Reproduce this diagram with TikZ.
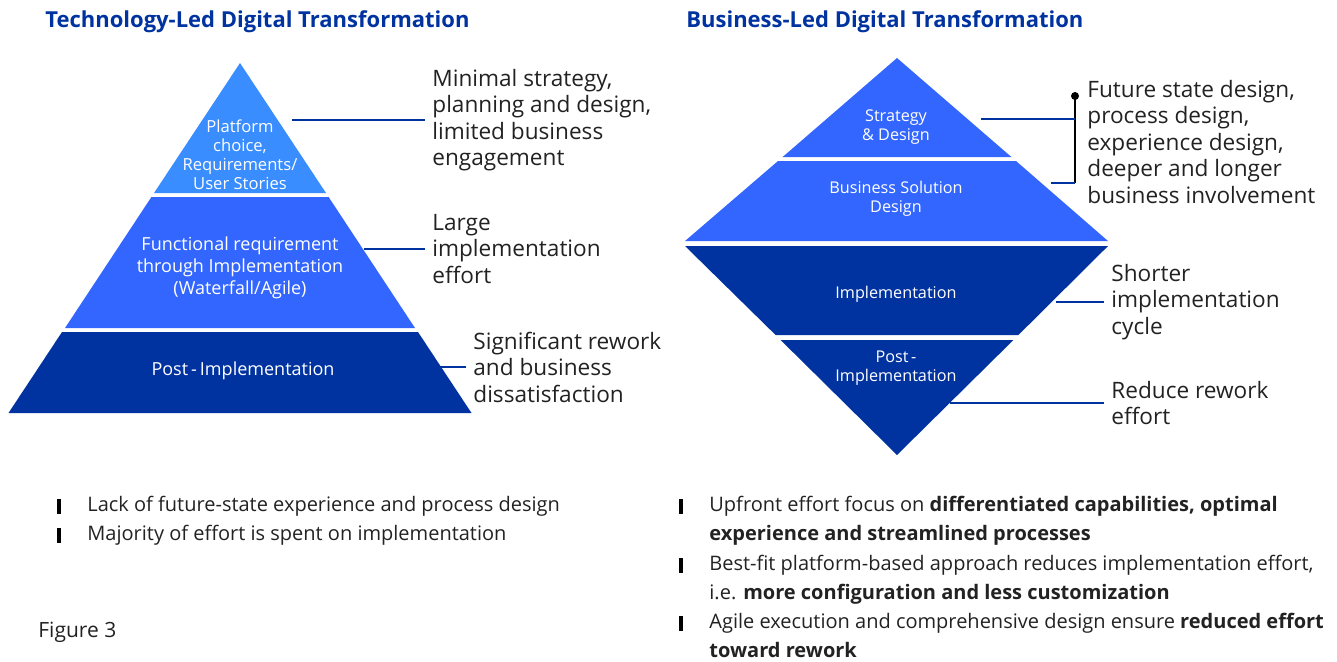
\documentclass[tikz,border=0pt]{standalone}
\usepackage{fontspec}
\setmainfont{Open Sans}
\usepackage{tikz}
\usetikzlibrary{positioning}

\definecolor{navy}{HTML}{0033A0}
\definecolor{midblue}{HTML}{3366FF}
\definecolor{lightblue}{HTML}{3A8DFF}
\definecolor{ink}{HTML}{222222}

\begin{document}
\begin{tikzpicture}[x=0.5pt,y=-0.5pt]
    \tikzstyle{inlabel}=[text=white, align=center, inner sep=0pt, font=\fontsize{9}{11}\selectfont]
    \tikzstyle{note}=[anchor=west, align=left, text=ink, inner sep=0pt, font=\fontsize{11.3}{13.25}\selectfont]
    \tikzstyle{lead}=[draw=navy, line width=0.7pt, shorten >=3.5pt]
    \tikzstyle{heading}=[anchor=west, text=navy, inner sep=0pt, font=\bfseries\fontsize{11}{13}\selectfont]
    \tikzstyle{barmark}=[fill=black, minimum width=2.4pt, minimum height=7.5pt, inner sep=0pt]
    \tikzstyle{item}=[anchor=north west, align=left, text=ink, inner sep=0pt, font=\fontsize{10}{14.5}\selectfont]

    \useasboundingbox (0,0) rectangle (1337,661);

    % Headings
    \node[heading] (T-L) at (45,22) {Technology-Led Digital Transformation};
    \node[heading] (T-R) at (686,22) {Business-Led Digital Transformation};

    % Left pyramid
    \fill[lightblue] (240,63) -- (326,193) -- (154,193) -- cycle;
    \fill[midblue] (151.4,197) -- (328.6,197) -- (415,328) -- (65,328) -- cycle;
    \fill[navy] (62,332) -- (418,332) -- (471.5,413) -- (8.5,413) -- cycle;
    \node[inlabel, font=\fontsize{8.3}{9.5}\selectfont] (L-1) at (240,155) {Platform\\choice,\\Requirements/\\User Stories};
    \node[inlabel] (L-2) at (240,268) {Functional requirement\\through Implementation\\(Waterfall/Agile)};
    \node[inlabel] (L-3) at (243,371) {Post\,-\,Implementation};

    % Left notes
    \node[note] (N-1) at (432,120) {Minimal strategy,\\planning and design,\\limited business\\engagement};
    \node[note] (N-2) at (432,249) {Large\\implementation\\effort};
    \node[note] (N-3) at (473,367) {Significant rework\\and business\\dissatisfaction};
    \draw[lead] (292,0 |- N-1.west) -- (N-1.west);
    \draw[lead] (364,0 |- N-2.west) -- (N-2.west);
    \draw[lead] (439,0 |- N-3.west) -- (N-3.west);

    % Right diamond
    \fill[midblue] (897,58) -- (1011.4,157) -- (782.6,157) -- cycle;
    \fill[midblue] (778,161) -- (1016,161) -- (1108,241) -- (685,241) -- cycle;
    \fill[navy] (685,246) -- (1108,246) -- (1018.4,335) -- (775.6,335) -- cycle;
    \fill[navy] (780.6,340) -- (1013.4,340) -- (897,455) -- cycle;
    \node[inlabel, font=\fontsize{8.1}{9.5}\selectfont] (R-1) at (896,127) {Strategy\\\& Design};
    \node[inlabel, font=\fontsize{8.1}{9.5}\selectfont] (R-2) at (896,199) {Business Solution\\Design};
    \node[inlabel, font=\fontsize{8.1}{9.5}\selectfont] (R-3) at (896,294) {Implementation};
    \node[inlabel, font=\fontsize{8.1}{9.5}\selectfont] (R-4) at (896,368) {Post\,-\\Implementation};

    % Right notes
    \node[note] (M-1) at (1087,142) {Future state design,\\process design,\\experience design,\\deeper and longer\\business involvement};
    \node[note] (M-2) at (1111,302) {Shorter\\implementation\\cycle};
    \node[note] (M-3) at (1111,403) {Reduce rework\\effort};
    \coordinate (B-top) at (1075,96);
    \coordinate (B-bot) at (1075,183);
    \fill[black] (B-top) circle (2pt);
    \draw[black, line width=0.7pt] (B-top) -- (B-bot);
    \draw[navy, line width=0.7pt] (981,119) -- (B-top |- 0,119);
    \draw[navy, line width=0.7pt] (1051,183) -- (B-bot);
    \draw[lead] (1056,0 |- M-2.west) -- (M-2.west);
    \draw[lead] (950,0 |- M-3.west) -- (M-3.west);

    % Bullets
    \node[barmark] (K-1) at (59,506) {};
    \node[barmark] (K-2) at (59,535) {};
    \node[item] (I-1) at (87,496) {Lack of future-state experience and process design};
    \node[item] (I-2) at (87,525) {Majority of effort is spent on implementation};
    \node[barmark] (K-3) at (681,506) {};
    \node[barmark] (K-4) at (681,565) {};
    \node[barmark] (K-5) at (681,623) {};
    \node[item] (I-3) at (709,496) {Upfront effort focus on \textbf{differentiated capabilities, optimal}\\\textbf{experience and streamlined processes}};
    \node[item] (I-4) at (709,555) {Best-fit platform-based approach reduces implementation effort,\\i.e. \textbf{more configuration and less customization}};
    \node[item] (I-5) at (709,613) {Agile execution and comprehensive design ensure \textbf{reduced effort}\\\textbf{toward rework}};

    \node[anchor=west, text=ink, inner sep=0pt, font=\fontsize{10.5}{12}\selectfont] (F) at (38,632) {Figure 3};
\end{tikzpicture}
\end{document}
